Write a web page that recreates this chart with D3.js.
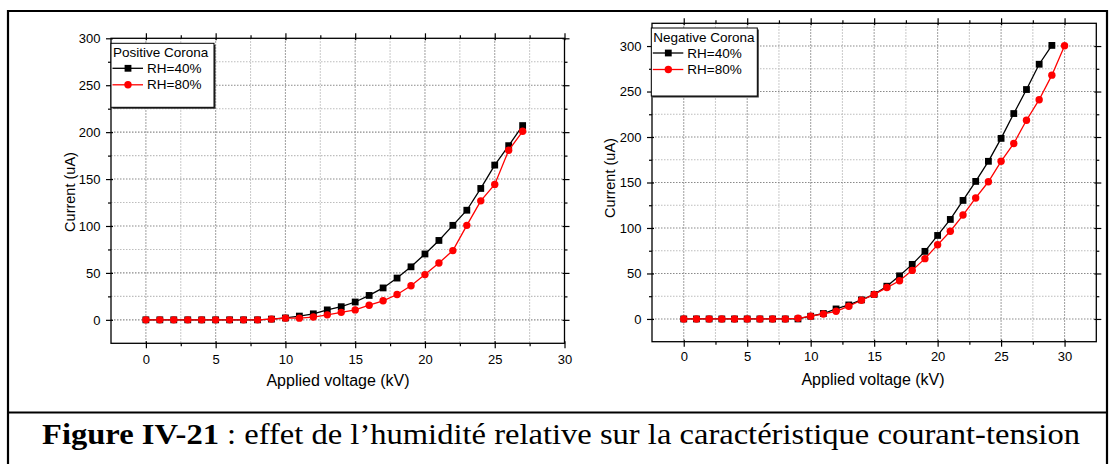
<!DOCTYPE html>
<html><head><meta charset="utf-8">
<script src="https://cdn.jsdelivr.net/npm/d3@7"></script>
<style>html,body{margin:0;padding:0;background:#fff;}svg{display:block;}</style>
</head><body>
<svg id="c" width="1115" height="464"></svg>
<script>
// ---------- data ----------
const posVoltage = [0,1,2,3,4,5,6,7,8,9,10,11,12,13,14,15,16,17,18,19,20,21,22,23,24,25,26,27];
const posRH40 = [0,0,0,0,0,0,0,0,0,0.8,2,4,6.4,10.6,14,19,26,34,44.5,56.5,70.2,84.6,100.7,116.8,140,164.9,185.6,207];
const posRH80 = [0,0,0,0,0,0,0,0,0,0.8,1.8,1.8,3,5.3,8,10.6,15.6,20.3,27,36.3,48.2,60.6,73.8,100.7,126.8,144.3,180.7,200.9];

const negVoltage40 = [0,1,2,3,4,5,6,7,8,9,10,11,12,13,14,15,16,17,18,19,20,21,22,23,24,25,26,27,28,29];
const negRH40 = [0,0,0,0,0,0,0,0,0,0,3,6,11,15.4,21,27,36,47.4,60,74.3,91.8,109.4,130.3,151.2,173.3,198.5,225.8,252.2,280,300.7];
const negVoltage80 = [0,1,2,3,4,5,6,7,8,9,10,11,12,13,14,15,16,17,18,19,20,21,22,23,24,25,26,27,28,29,30];
const negRH80 = [0,0,0,0,0,0,0,0,0,0.7,3,5.5,8.4,14,20.6,27,34.5,42,53.4,66.3,81.5,96.4,114.2,133,150.8,173.3,192.9,218.4,241,268,300.3];

const xTicks = [0,5,10,15,20,25,30];
const xMinor = [2.5,7.5,12.5,17.5,22.5,27.5];
const yTicks = [0,50,100,150,200,250,300];
const yMinor = [25,75,125,175,225,275];
const seriesNames = ["RH=40%","RH=80%"];
const legendTitles = ["Positive Corona","Negative Corona"];
const xTitle = "Applied voltage (kV)";
const yTitle = "Current (uA)";
const captionBold = "Figure IV-21";
const captionRest = " : effet de l\u2019humidit\u00e9 relative sur la caract\u00e9ristique courant-tension";

// ---------- drawing ----------
const svg = d3.select("#c");
const SANS = "'Liberation Sans', Arial, Helvetica, sans-serif";
const SERIF = "'Liberation Serif', 'Times New Roman', Times, serif";

// outer frame
const frame = svg.append("g").attr("stroke","#000").attr("stroke-width",2.2).attr("fill","none");
frame.append("path").attr("d","M8,464 V11 H1107 V464");
frame.append("path").attr("d","M8,412.5 H1107");

function panel(cfg){
  const g = svg.append("g");
  const x = d3.scaleLinear().domain(cfg.xd).range([cfg.l, cfg.r]);
  const y = d3.scaleLinear().domain(cfg.yd).range([cfg.b, cfg.t]);
  const gx = [...xTicks, ...xMinor].filter(v => v < cfg.xd[1]);
  const gy = [...yTicks, ...yMinor].filter(v => v < cfg.yd[1]);
  // grid
  const grid = g.append("g");
  grid.selectAll(".gxm").data(gx).join("line")
    .attr("x1",d=>x(d)).attr("x2",d=>x(d)).attr("y1",cfg.t).attr("y2",cfg.b)
    .attr("stroke",d=>xTicks.includes(d)?"#8a8a8a":"#bdbdbd").attr("stroke-width",1.1)
    .attr("stroke-dasharray","1.5,1.5");
  grid.selectAll(".gym").data(gy).join("line")
    .attr("y1",d=>y(d)).attr("y2",d=>y(d)).attr("x1",cfg.l).attr("x2",cfg.r)
    .attr("stroke",d=>yTicks.includes(d)?"#8a8a8a":"#bdbdbd").attr("stroke-width",1.1)
    .attr("stroke-dasharray","1.5,1.5");

  function styleAxis(sel){
    sel.select(".domain").remove();
    sel.selectAll("line").attr("stroke","#000").attr("stroke-width",1.2);
    sel.selectAll("text").attr("font-family",SANS).attr("font-size",13).attr("fill","#000");
  }
  // bottom
  g.append("g").attr("transform",`translate(0,${cfg.b})`)
    .call(d3.axisBottom(x).tickValues(xTicks).tickSize(5).tickPadding(cfg.xpad)).call(styleAxis)
    .selectAll("line").attr("y1",-2);
  g.append("g").attr("transform",`translate(0,${cfg.b})`)
    .call(d3.axisBottom(x).tickValues(xMinor).tickSize(3).tickFormat("")).call(styleAxis);
  // top
  g.append("g").attr("transform",`translate(0,${cfg.t})`)
    .call(d3.axisTop(x).tickValues(xTicks).tickSize(5).tickFormat("")).call(styleAxis)
    .selectAll("line").attr("y1",2);
  g.append("g").attr("transform",`translate(0,${cfg.t})`)
    .call(d3.axisTop(x).tickValues(xMinor).tickSize(3).tickFormat("")).call(styleAxis);
  // left
  g.append("g").attr("transform",`translate(${cfg.l},0)`)
    .call(d3.axisLeft(y).tickValues(yTicks).tickSize(5).tickPadding(5.5)).call(styleAxis)
    .selectAll("line").attr("x1",2);
  g.append("g").attr("transform",`translate(${cfg.l},0)`)
    .call(d3.axisLeft(y).tickValues(yMinor).tickSize(3).tickFormat("")).call(styleAxis);
  // right
  g.append("g").attr("transform",`translate(${cfg.r},0)`)
    .call(d3.axisRight(y).tickValues(yTicks).tickSize(5).tickFormat("")).call(styleAxis)
    .selectAll("line").attr("x1",-2);
  g.append("g").attr("transform",`translate(${cfg.r},0)`)
    .call(d3.axisRight(y).tickValues(yMinor).tickSize(3).tickFormat("")).call(styleAxis);

  // frame
  g.append("rect").attr("x",cfg.l).attr("y",cfg.t).attr("width",cfg.r-cfg.l).attr("height",cfg.b-cfg.t)
    .attr("fill","none").attr("stroke","#000").attr("stroke-width",1.3);

  // series
  const line = d3.line().x(d=>x(d[0])).y(d=>y(d[1]));
  const s40 = cfg.x40.map((v,i)=>[v,cfg.y40[i]]);
  const s80 = cfg.x80.map((v,i)=>[v,cfg.y80[i]]);
  g.append("path").datum(s40).attr("d",line).attr("fill","none").attr("stroke","#000").attr("stroke-width",1.3);
  g.selectAll(".sq").data(s40).join("rect")
    .attr("x",d=>x(d[0])-3.4).attr("y",d=>y(d[1])-3.4).attr("width",6.8).attr("height",6.8).attr("fill","#000");
  g.append("path").datum(s80).attr("d",line).attr("fill","none").attr("stroke","#ff0000").attr("stroke-width",1.3);
  g.selectAll(".ci").data(s80).join("circle")
    .attr("cx",d=>x(d[0])).attr("cy",d=>y(d[1])).attr("r",3.7).attr("fill","#ff0000");

  // axis titles
  g.append("text").attr("x",cfg.xtx).attr("y",cfg.xty).attr("text-anchor","middle")
    .attr("font-family",SANS).attr("font-size",16).text(xTitle);
  g.append("text").attr("transform",`translate(${cfg.ytx},${cfg.yty}) rotate(-90)`).attr("text-anchor","middle")
    .attr("font-family",SANS).attr("font-size",14.5).text(yTitle);

  // legend
  const L = cfg.leg;
  const lg = g.append("g");
  lg.append("rect").attr("x",L.x+1.5).attr("y",L.y+1.5).attr("width",L.w).attr("height",L.h).attr("fill","#333");
  lg.append("rect").attr("x",L.x).attr("y",L.y).attr("width",L.w).attr("height",L.h).attr("fill","#fff")
    .attr("stroke","#000").attr("stroke-width",1);
  lg.append("text").attr("x",L.x+2).attr("y",L.y+13.5).attr("font-family",SANS).attr("font-size",13.5).text(cfg.title);
  const rows = [{c:"#000",shape:"sq"},{c:"#ff0000",shape:"ci"}];
  rows.forEach((r,i)=>{
    const yy = L.y + 25 + i*16.5;
    lg.append("line").attr("x1",L.x+1.5).attr("x2",L.x+32).attr("y1",yy).attr("y2",yy).attr("stroke",r.c).attr("stroke-width",1.3);
    if(r.shape==="sq") lg.append("rect").attr("x",L.x+17-3.4).attr("y",yy-3.4).attr("width",6.8).attr("height",6.8).attr("fill",r.c);
    else lg.append("circle").attr("cx",L.x+17).attr("cy",yy).attr("r",3.7).attr("fill",r.c);
    lg.append("text").attr("x",L.x+36).attr("y",yy+4.6).attr("font-family",SANS).attr("font-size",13.5).text(seriesNames[i]);
  });
}

panel({l:111, r:564.5, t:38.3, b:343.3, xd:[-2.5,30], yd:[-25,300], xpad:6.5,
  x40:posVoltage, y40:posRH40, x80:posVoltage, y80:posRH80,
  xtx:338, xty:386, ytx:75, yty:192, title:legendTitles[0],
  leg:{x:111, y:43.3, w:103, h:64}});
panel({l:652, r:1096.3, t:23.3, b:341.7, xd:[-2.5,32.5], yd:[-25,325], xpad:5.5,
  x40:negVoltage40, y40:negRH40, x80:negVoltage80, y80:negRH80,
  xtx:873, xty:385, ytx:615, yty:178, title:legendTitles[1],
  leg:{x:651.3, y:28, w:106, h:68}});

// caption
const cap = svg.append("text").attr("x",42).attr("y",443.5).attr("font-family",SERIF).attr("font-size",30)
  .attr("fill","#000").attr("textLength",1038).attr("lengthAdjust","spacingAndGlyphs");
cap.append("tspan").attr("font-weight","bold").text(captionBold);
cap.append("tspan").text(captionRest);
</script>
</body></html>
